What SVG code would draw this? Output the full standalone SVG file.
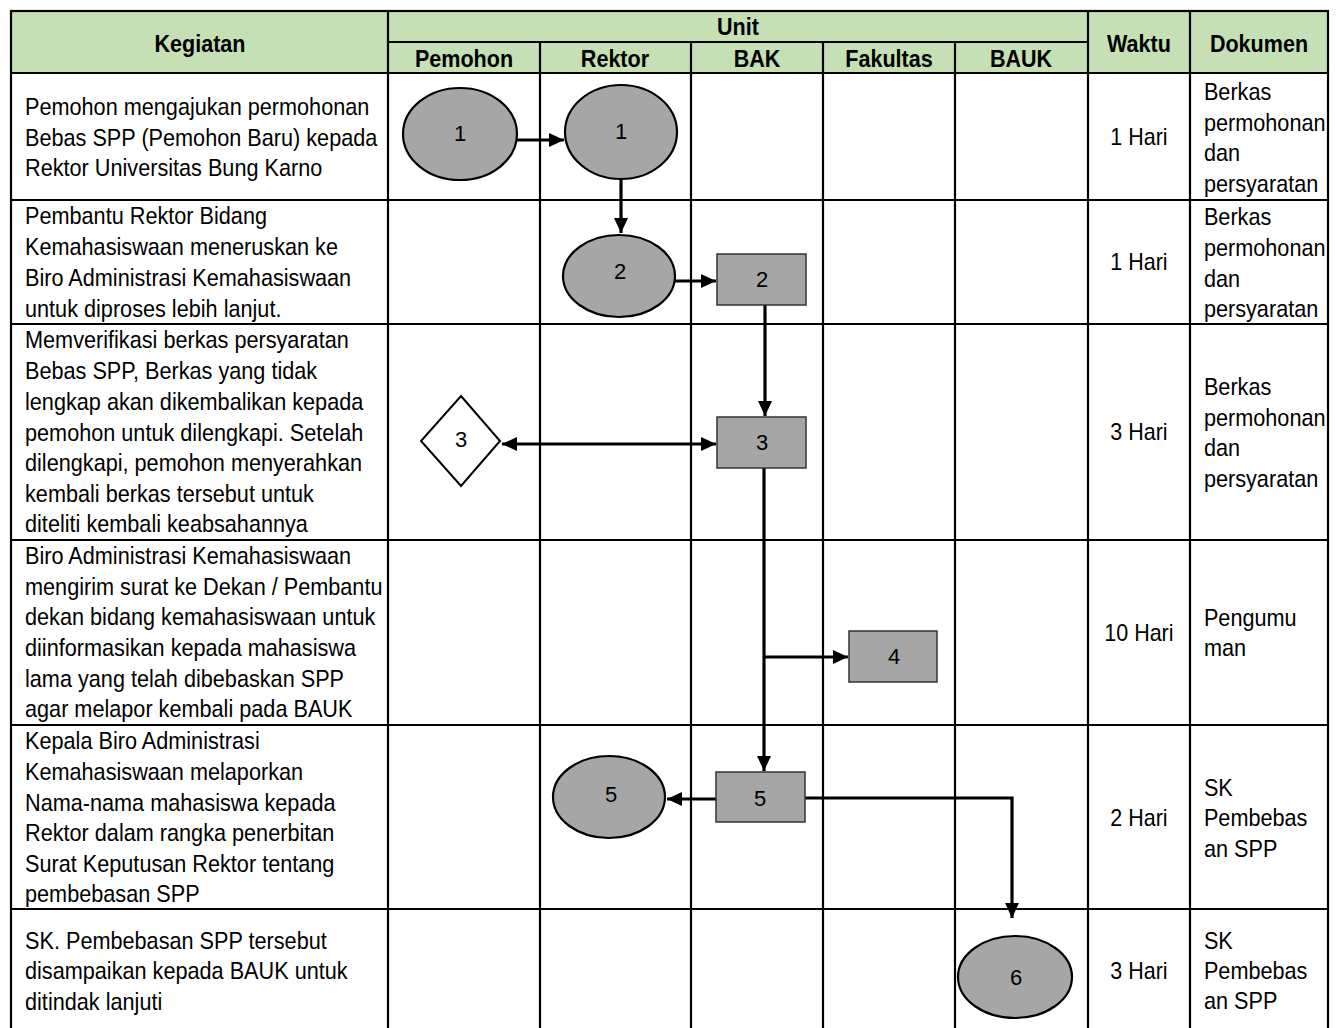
<svg xmlns="http://www.w3.org/2000/svg" width="1343" height="1028" viewBox="0 0 1343 1028">
<defs>
<style>
.grid{stroke:#000;stroke-width:2.2;fill:none}
.hdr{fill:#C5E0B4}
.th{font-family:"Liberation Sans",Arial,sans-serif;font-weight:bold;font-size:23.7px;text-anchor:middle;fill:#000}
.td{font-family:"Liberation Sans",Arial,sans-serif;font-size:23.8px;fill:#000}
.tc{font-family:"Liberation Sans",Arial,sans-serif;font-size:23.6px;fill:#000;text-anchor:middle}
.lbl{font-family:"Liberation Sans",Arial,sans-serif;font-size:22px;fill:#000;text-anchor:middle}
.ell{fill:#A6A6A6;stroke:#000;stroke-width:2.2}
.box{fill:#A6A6A6;stroke:#333;stroke-width:1.5}
.dia{fill:#fff;stroke:#000;stroke-width:2}
.con{stroke:#000;stroke-width:3.2;fill:none}
</style>
<marker id="ah" markerUnits="userSpaceOnUse" markerWidth="16" markerHeight="16" viewBox="0 0 16 16" refX="15" refY="8" orient="auto-start-reverse">
<path d="M0,1 L15,8 L0,15 Z" fill="#000"/>
</marker>
</defs>
<rect x="0" y="0" width="1343" height="1028" fill="#fff"/>

<g id="table">
<rect class="hdr" x="11" y="11" width="1317" height="62"/>
<rect class="grid" x="11" y="11" width="1317" height="1030"/>
<path class="grid" d="M388,42 H1088 M11,73 H1328 M11,200 H1328 M11,324 H1328 M11,540 H1328 M11,725 H1328 M11,909 H1328"/>
<path class="grid" d="M388,11 V1028 M1088,11 V1028 M1190,11 V1028 M540,42 V1028 M691,42 V1028 M823,42 V1028 M955,42 V1028"/>
<g transform="scale(0.91,1)">
<text class="th" x="219.8" y="52">Kegiatan</text>
<text class="th" x="811" y="35">Unit</text>
<text class="th" x="509.9" y="67">Pemohon</text>
<text class="th" x="675.8" y="67">Rektor</text>
<text class="th" x="831.9" y="67">BAK</text>
<text class="th" x="976.9" y="67">Fakultas</text>
<text class="th" x="1122" y="67">BAUK</text>
<text class="th" x="1251.6" y="52">Waktu</text>
<text class="th" x="1383.5" y="52">Dokumen</text>
</g>
</g>

<g id="kegiatan" transform="scale(0.91,1)">
<text class="td"><tspan x="27.5" y="115">Pemohon mengajukan permohonan</tspan><tspan x="27.5" y="146">Bebas SPP (Pemohon Baru) kepada</tspan><tspan x="27.5" y="176">Rektor Universitas Bung Karno</tspan></text>
<text class="td"><tspan x="27.5" y="224">Pembantu Rektor Bidang</tspan><tspan x="27.5" y="255">Kemahasiswaan meneruskan ke</tspan><tspan x="27.5" y="286">Biro Administrasi Kemahasiswaan</tspan><tspan x="27.5" y="317">untuk diproses lebih lanjut.</tspan></text>
<text class="td"><tspan x="27.5" y="348">Memverifikasi berkas persyaratan</tspan><tspan x="27.5" y="379">Bebas SPP, Berkas yang tidak</tspan><tspan x="27.5" y="410">lengkap akan dikembalikan kepada</tspan><tspan x="27.5" y="441">pemohon untuk dilengkapi. Setelah</tspan><tspan x="27.5" y="471">dilengkapi, pemohon menyerahkan</tspan><tspan x="27.5" y="502">kembali berkas tersebut untuk</tspan><tspan x="27.5" y="532">diteliti kembali keabsahannya</tspan></text>
<text class="td"><tspan x="27.5" y="564">Biro Administrasi Kemahasiswaan</tspan><tspan x="27.5" y="595">mengirim surat ke Dekan / Pembantu</tspan><tspan x="27.5" y="625">dekan bidang kemahasiswaan untuk</tspan><tspan x="27.5" y="656">diinformasikan kepada mahasiswa</tspan><tspan x="27.5" y="687">lama yang telah dibebaskan SPP</tspan><tspan x="27.5" y="717">agar melapor kembali pada BAUK</tspan></text>
<text class="td"><tspan x="27.5" y="749">Kepala Biro Administrasi</tspan><tspan x="27.5" y="780">Kemahasiswaan melaporkan</tspan><tspan x="27.5" y="811">Nama-nama mahasiswa kepada</tspan><tspan x="27.5" y="841">Rektor dalam rangka penerbitan</tspan><tspan x="27.5" y="872">Surat Keputusan Rektor tentang</tspan><tspan x="27.5" y="902">pembebasan SPP</tspan></text>
<text class="td"><tspan x="27.5" y="949">SK. Pembebasan SPP tersebut</tspan><tspan x="27.5" y="979">disampaikan kepada BAUK untuk</tspan><tspan x="27.5" y="1010">ditindak lanjuti</tspan></text>
</g>

<g id="waktu" transform="scale(0.91,1)">
<text class="tc" x="1251.6" y="145">1 Hari</text>
<text class="tc" x="1251.6" y="270">1 Hari</text>
<text class="tc" x="1251.6" y="440">3 Hari</text>
<text class="tc" x="1251.6" y="641">10 Hari</text>
<text class="tc" x="1251.6" y="826">2 Hari</text>
<text class="tc" x="1251.6" y="979">3 Hari</text>
</g>

<g id="dokumen" transform="scale(0.91,1)">
<text class="td"><tspan x="1323" y="100">Berkas</tspan><tspan x="1323" y="131">permohonan</tspan><tspan x="1323" y="161">dan</tspan><tspan x="1323" y="192">persyaratan</tspan></text>
<text class="td"><tspan x="1323" y="225">Berkas</tspan><tspan x="1323" y="256">permohonan</tspan><tspan x="1323" y="287">dan</tspan><tspan x="1323" y="317">persyaratan</tspan></text>
<text class="td"><tspan x="1323" y="395">Berkas</tspan><tspan x="1323" y="426">permohonan</tspan><tspan x="1323" y="456">dan</tspan><tspan x="1323" y="487">persyaratan</tspan></text>
<text class="td"><tspan x="1323" y="626">Pengumu</tspan><tspan x="1323" y="656">man</tspan></text>
<text class="td"><tspan x="1323" y="796">SK</tspan><tspan x="1323" y="826">Pembebas</tspan><tspan x="1323" y="857">an SPP</tspan></text>
<text class="td"><tspan x="1323" y="949">SK</tspan><tspan x="1323" y="979">Pembebas</tspan><tspan x="1323" y="1009">an SPP</tspan></text>
</g>

<g id="connectors">
<path class="con" d="M517,140 H564" marker-end="url(#ah)"/>
<path class="con" d="M621,180 V233" marker-end="url(#ah)"/>
<path class="con" d="M675,281 H716" marker-end="url(#ah)"/>
<path class="con" d="M765,305 V416" marker-end="url(#ah)"/>
<path class="con" d="M502,444 H716" marker-start="url(#ah)" marker-end="url(#ah)"/>
<path class="con" d="M764,468 V771" marker-end="url(#ah)"/>
<path class="con" d="M764,657 H848" marker-end="url(#ah)"/>
<path class="con" d="M716,799 H667" marker-end="url(#ah)"/>
<path class="con" d="M805,798 H1012 V918" marker-end="url(#ah)"/>
</g>

<g id="n1a"><ellipse class="ell" cx="460" cy="134" rx="57" ry="46"/><text class="lbl" x="460" y="141">1</text></g>
<g id="n1b"><ellipse class="ell" cx="621" cy="132" rx="56" ry="47"/><text class="lbl" x="621" y="139">1</text></g>
<g id="n2a"><ellipse class="ell" cx="619" cy="276" rx="56" ry="41"/><text class="lbl" x="620" y="279">2</text></g>
<g id="n2b"><rect class="box" x="717" y="254" width="89" height="51"/><text class="lbl" x="762" y="287">2</text></g>
<g id="n3a"><polygon class="dia" points="461,396 500,441 461,486 421,441"/><text class="lbl" x="461" y="447">3</text></g>
<g id="n3b"><rect class="box" x="717" y="417" width="89" height="51"/><text class="lbl" x="762" y="450">3</text></g>
<g id="n4"><rect class="box" x="849" y="631" width="88" height="51"/><text class="lbl" x="894" y="664">4</text></g>
<g id="n5b"><rect class="box" x="716" y="772" width="89" height="50"/><text class="lbl" x="760" y="806">5</text></g>
<g id="n5a"><ellipse class="ell" cx="609" cy="797" rx="56" ry="41"/><text class="lbl" x="611" y="802">5</text></g>
<g id="n6"><ellipse class="ell" cx="1015" cy="977" rx="57" ry="41"/><text class="lbl" x="1016" y="985">6</text></g>
</svg>
